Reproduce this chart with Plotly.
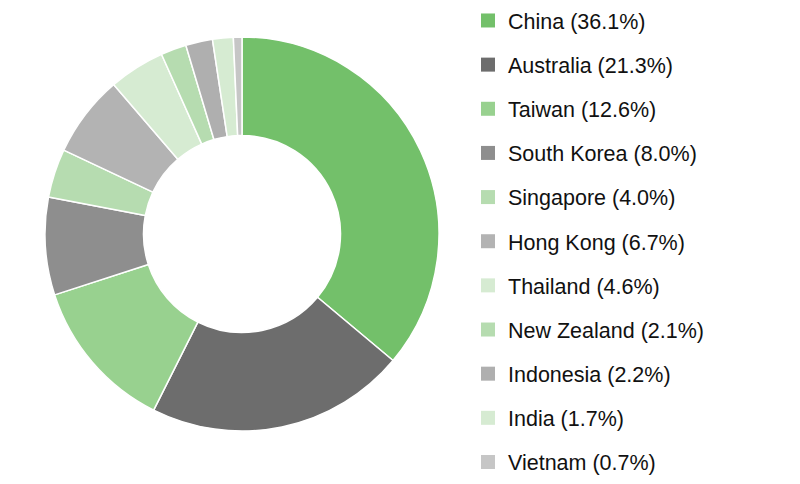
import plotly.graph_objects as go

countries = ["China", "Australia", "Taiwan", "South Korea", "Singapore", "Hong Kong",
             "Thailand", "New Zealand", "Indonesia", "India", "Vietnam"]
shares = [36.1, 21.3, 12.6, 8.0, 4.0, 6.7, 4.6, 2.1, 2.2, 1.7, 0.7]
colors = ["#73c06a", "#6d6d6d", "#98d18f", "#8e8e8e", "#b6dcb0", "#b3b3b3",
          "#d6ebd2", "#b6dcb0", "#afafaf", "#d6ebd2", "#c6c6c6"]
legend_labels = [f"{c} ({v:.1f}%)" for c, v in zip(countries, shares)]

W, H = 800, 484
fig = go.Figure()
fig.add_trace(go.Pie(
    labels=countries, values=shares, hole=0.5, sort=False, direction="clockwise",
    rotation=0, marker=dict(colors=colors, line=dict(color="white", width=1.5)),
    textinfo="none", hoverinfo="label+percent", showlegend=False,
    domain=dict(x=[45/W, 439/W], y=[(H-431)/H, (H-37)/H]),
))
for i, (lab, col) in enumerate(zip(legend_labels, colors)):
    fig.add_trace(go.Scatter(
        x=[None], y=[None], mode="markers", name=lab, legendgroup=f"g{i}",
        marker=dict(symbol="square", size=14, color=col), showlegend=True,
    ))

fig.update_layout(
    width=W, height=H, margin=dict(l=0, r=0, t=0, b=0),
    paper_bgcolor="white", plot_bgcolor="white",
    xaxis=dict(visible=False), yaxis=dict(visible=False),
    font=dict(family="Liberation Sans", color="#111111"),
    legend=dict(x=468/W, xanchor="left", y=1.0, yanchor="top",
                font=dict(family="Liberation Sans", size=21.5, color="#111111"),
                tracegroupgap=13.2, itemsizing="trace", bgcolor="rgba(0,0,0,0)"),
)
fig.write_html("out.html", config={"displayModeBar": False},
               post_script="document.body.style.margin='0px';")
